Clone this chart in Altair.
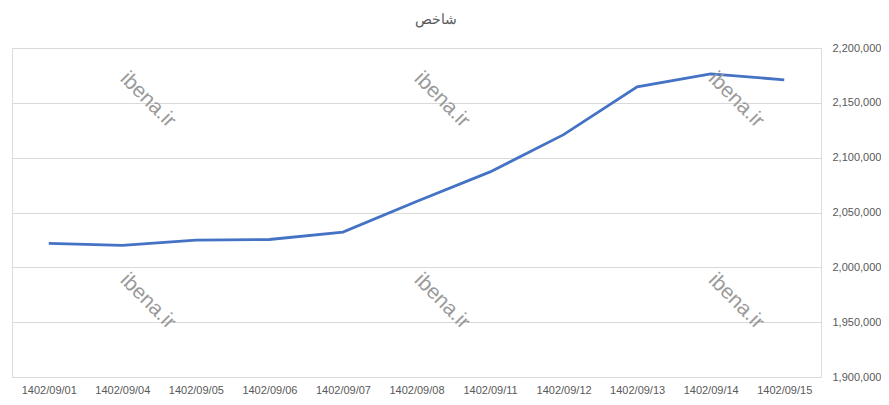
import altair as alt
import pandas as pd

dates = ["1402/09/01", "1402/09/04", "1402/09/05", "1402/09/06", "1402/09/07",
         "1402/09/08", "1402/09/11", "1402/09/12", "1402/09/13", "1402/09/14", "1402/09/15"]
values = [2021800, 2020000, 2024800, 2025400, 2032100,
          2060000, 2087000, 2121000, 2164600, 2176400, 2171000]

wm_dates = ["1402/09/04", "1402/09/08", "1402/09/14", "1402/09/04", "1402/09/08", "1402/09/14"]
wm_values = [2152700, 2152700, 2152700, 1969000, 1969000, 1969000]
wm_text = ["ibena.ir"] * 6

df = pd.DataFrame({"date": dates, "value": values})
wm = pd.DataFrame({"date": wm_dates, "value": wm_values, "label": wm_text})

FONT = "Liberation Sans"
GRAY = "#595959"

x = alt.X("date:O", sort=dates, title=None,
          scale=alt.Scale(type="point", padding=0.5),
          axis=alt.Axis(labelAngle=0, ticks=False, domain=False, grid=False,
                        labelColor=GRAY, labelFont=FONT, labelFontSize=11,
                        labelPadding=7))
y = alt.Y("value:Q", title=None,
          scale=alt.Scale(domain=[1900000, 2200000], nice=False, zero=False),
          axis=alt.Axis(orient="right", values=list(range(1900000, 2200001, 50000)),
                        format=",.0f", ticks=False, domain=False, grid=True,
                        gridColor="#d9d9d9", gridWidth=1,
                        labelColor=GRAY, labelFont=FONT, labelFontSize=11,
                        labelPadding=11))

line = alt.Chart(df).mark_line(color="#4472C4", strokeWidth=2.8).encode(x=x, y=y)

watermark = alt.Chart(wm).mark_text(
    angle=45, font=FONT, fontSize=21, color="#9a9a9a", dx=18, dy=-18,
    align="center", baseline="middle"
).encode(x=x, y=y, text="label:N")

chart = alt.layer(line, watermark).properties(
    width=809, height=329,
    title=alt.TitleParams("شاخص", font=FONT, fontSize=14, color=GRAY,
                          fontWeight="normal", anchor="middle", offset=15, dx=19),
    padding={"left": 4, "top": 40, "right": 60, "bottom": 22},
    autosize=alt.AutoSizeParams(type="none"),
).configure_view(stroke=None).configure(background="white")

chart.save("out.html", embed_options={"renderer": "svg", "actions": False})
